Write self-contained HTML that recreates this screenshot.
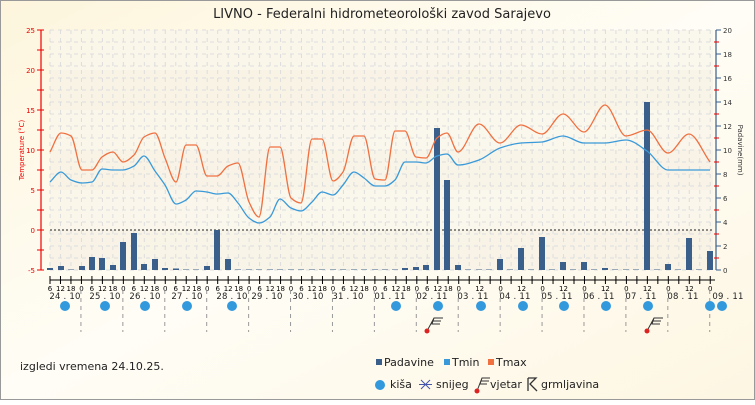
<!DOCTYPE html><html><head><meta charset="utf-8"><style>
body{margin:0;width:755px;height:400px;overflow:hidden;font-family:"Liberation Sans","DejaVu Sans",sans-serif}
</style></head><body>
<svg id="s" width="755" height="400" xmlns="http://www.w3.org/2000/svg" font-family="DejaVu Sans, Liberation Sans, sans-serif">
<defs><linearGradient id="bg" x1="0" y1="0" x2="1" y2="1"><stop offset="0" stop-color="#fdf5dc"/><stop offset="0.5" stop-color="#fffdf6"/><stop offset="1" stop-color="#fdf6e2"/></linearGradient></defs>
<rect x="0.5" y="0.5" width="754" height="399" fill="url(#bg)" stroke="#999"/>
<text x="382" y="18" font-size="13" text-anchor="middle" fill="#222">LIVNO - Federalni hidrometeorološki zavod Sarajevo</text>
<g id="g"></g>
<text x="20" y="370" font-size="11" fill="#222">izgledi vremena 24.10.25.</text>
<rect x="376" y="359" width="6" height="6" fill="#3a5f8a"/><text x="384" y="366" font-size="11" fill="#222">Padavine</text>
<rect x="444" y="359" width="6" height="6" fill="#3a9ad9"/><text x="452" y="366" font-size="11" fill="#222">Tmin</text>
<rect x="488" y="359" width="6" height="6" fill="#f07040"/><text x="496" y="366" font-size="11" fill="#222">Tmax</text>
<circle cx="380" cy="385" r="5" fill="#3399dd"/><text x="390" y="388" font-size="11" fill="#222">kiša</text>
<path d="M421 380l9 9M430 380l-9 9M419 384.5h13" stroke="#4455aa" stroke-width="1"/><text x="436" y="388" font-size="11" fill="#222">snijeg</text>
<path d="M477 391l5-13h8M482 378l-1 3h8M481 381l-1 3h7" stroke="#333" fill="none"/><circle cx="477" cy="391" r="2.5" fill="#d22"/><text x="490" y="388" font-size="11" fill="#222">vjetar</text>
<path d="M528 378v13M528 378h8l-6 6 7 7" stroke="#333" fill="none" stroke-width="1.3"/><text x="541" y="388" font-size="11" fill="#222">grmljavina</text>
</svg>
<script>
var g=document.getElementById('g'),h='';
var X0=50,S=10.48,L=50,R=713;
for(var t=-5;t<25;t+=5){var y1=270-(t+5)*8;h+='<rect x="'+L+'" y="'+(y1-40)+'" width="'+(R-L)+'" height="40" fill="'+((t/5)%2?'#f6f1e4':'#f9f5ea')+'" opacity="0.8"/>';}
for(var y=30;y<=270;y+=12)h+='<line x1="'+L+'" x2="'+R+'" y1="'+y+'" y2="'+y+'" stroke="#ddd" stroke-dasharray="4,4"/>';
for(var i=0;i<=63;i++){var x=X0+S*i;h+='<line x1="'+x+'" x2="'+x+'" y1="30" y2="270" stroke="#ddd" stroke-dasharray="4,4"/>';}
h+='<line x1="'+L+'" x2="'+R+'" y1="230" y2="230" stroke="#222" stroke-dasharray="2,2"/>';
var bars=[[50,268],[61,266],[71,269.5],[82,266],[92,257],[102,258],[113,265],[123,242],[134,233],[144,264],[155,259],[165,268],[176,268.5],[186,269.5],[196,269.5],[207,266],[217,230],[228,259],[238,269.5],[249,269.5],[259,269.5],[270,269.5],[280,269.5],[291,269.5],[301,269.5],[312,269.5],[322,269.5],[333,269.5],[343,269.5],[354,269.5],[364,269.5],[375,269.5],[385,269.5],[395,269.5],[405,268],[416,267],[426,265],[437,128],[447,180],[458,265],[468,269.5],[479,269.5],[489,269.5],[500,259],[510,269.5],[521,248],[531,269.5],[542,237],[552,269.5],[563,262],[573,269.5],[584,262],[594,269.5],[605,268],[615,269.5],[626,269.5],[636,269.5],[647,102],[657,269.5],[668,264],[678,269.5],[689,238],[699,269.5],[710,251]];
bars.forEach(function(b){h+='<rect x="'+(b[0]-3)+'" y="'+b[1]+'" width="6" height="'+(270-b[1])+'" fill="#3a5f8a"/>';});
var tmax=[[50,152],[61,133],[71,136],[82,170],[92,170],[102,157],[113,152],[123,162],[134,155],[144,137],[155,133],[165,158],[176,182],[186,145],[196,145],[207,176],[217,176],[228,166],[238,163],[249,202],[259,217],[270,147],[280,147],[291,198],[301,203],[312,139],[322,139],[333,181],[343,172],[354,136],[364,136],[375,179],[385,180],[395,131],[405,131],[416,157],[426,158],[437,138],[447,133],[458,152],[479,124],[500,143],[521,125],[542,134],[563,114],[584,132],[605,105],[626,136],[647,130],[668,153],[689,134],[710,162]];
var tmin=[[50,182],[61,172],[71,180],[82,183],[92,182],[102,169],[113,170],[123,170],[134,166],[144,156],[155,171],[165,185],[176,204],[186,200],[196,191],[207,192],[217,194],[228,193],[238,203],[249,218],[259,223],[270,217],[280,199],[291,208],[301,211],[312,202],[322,192],[333,195],[343,185],[354,172],[364,178],[375,186],[385,186],[395,180],[405,162],[416,162],[426,163],[437,156],[447,154],[458,165],[479,160],[500,148],[521,143],[542,142],[563,136],[584,143],[605,143],[626,140],[647,151],[668,170],[689,170],[710,170]];
function pl(p,c){var n=p.length,dl=[],m=[];
for(var i=0;i<n-1;i++)dl.push((p[i+1][1]-p[i][1])/(p[i+1][0]-p[i][0]));
m[0]=dl[0];m[n-1]=dl[n-2];
for(var i=1;i<n-1;i++){if(dl[i-1]*dl[i]<=0)m[i]=0;else m[i]=2/(1/dl[i-1]+1/dl[i]);}
var d='M'+p[0][0]+' '+p[0][1];
for(var i=0;i<n-1;i++){var dx=(p[i+1][0]-p[i][0])/3;
d+='C'+(p[i][0]+dx).toFixed(1)+' '+(p[i][1]+m[i]*dx).toFixed(1)+' '+(p[i+1][0]-dx).toFixed(1)+' '+(p[i+1][1]-m[i+1]*dx).toFixed(1)+' '+p[i+1][0]+' '+p[i+1][1];}
return '<path fill="none" stroke="'+c+'" stroke-width="1.3" d="'+d+'"/>';}
h+=pl(tmin,'#3a9ad9')+pl(tmax,'#f07040');
h+='<line x1="41" x2="41" y1="30" y2="270" stroke="#e00" stroke-width="1.2"/>';
for(var t=-5;t<=25;t+=2.5){var y=270-(t+5)*8;h+='<line x1="37" x2="44" y1="'+y+'" y2="'+y+'" stroke="#e00"/>';if(t%5==0)h+='<text x="35" y="'+(y+3)+'" font-size="7" fill="#e00" text-anchor="end">'+t+'</text>';}
h+='<text transform="translate(24,150) rotate(-90)" font-size="7" fill="#e00" text-anchor="middle">Temperature (°C)</text>';
h+='<line x1="716" x2="716" y1="30" y2="270" stroke="#3a5f8a" stroke-width="1.2"/>';
for(var v=0;v<=20;v+=1){var y=270-v*12;h+='<line x1="'+(v%2?714:716)+'" x2="'+(v%2?719:721)+'" y1="'+y+'" y2="'+y+'" stroke="'+(v%2?'#e00':'#3a5f8a')+'"/>';if(v%2==0)h+='<text x="723" y="'+(y+3)+'" font-size="7" fill="#333">'+v+'</text>';}
h+='<text transform="translate(738,150) rotate(90)" font-size="7" fill="#333" text-anchor="middle">Padavine(mm)</text>';
h+='<line x1="'+L+'" x2="715" y1="280" y2="280" stroke="#000"/>';
for(var i=0;i<=63;i++){var x=X0+S*i;h+='<line x1="'+x+'" x2="'+x+'" y1="276" y2="284" stroke="#000"/>';var hr=(6+6*i)%24,l=hr+'';if(i>39&&hr!=0&&hr!=12)l='';h+='<text x="'+x+'" y="291" font-size="7" text-anchor="middle" fill="#000">'+l+'</text>';}
var days=['24 . 10','25 . 10','26 . 10','27 . 10','28 . 10','29 . 10','30 . 10','31 . 10','01 . 11','02 . 11','03 . 11','04 . 11','05 . 11','06 . 11','07 . 11','08 . 11','09 . 11'];
var dx=[65,105,145,187,232,267,308,348,390,432,473,515,557,599,641,683,728];
days.forEach(function(d,k){h+='<text x="'+dx[k]+'" y="299" font-size="8.5" text-anchor="middle" fill="#222" letter-spacing="0.2">'+d+'</text>';});
for(var k=0;k<16;k++){var x=X0+S*(3+4*k)-0.5;h+='<line x1="'+x+'" x2="'+x+'" y1="290" y2="332" stroke="#999" stroke-dasharray="4,4"/>';}
[65,105,145,187,232,396,438,481,523,564,606,648,710,722].forEach(function(x){h+='<circle cx="'+x+'" cy="306" r="5" fill="#3399dd"/>';});
[427,647].forEach(function(x){h+='<path d="M'+x+' 331l7-13h9M'+(x+7)+' 318l-1 3h8M'+(x+6)+' 321l-1 3h8" stroke="#333" fill="none"/><circle cx="'+x+'" cy="331" r="2.5" fill="#d22"/>';});
g.innerHTML=h;
</script>
</body></html>
